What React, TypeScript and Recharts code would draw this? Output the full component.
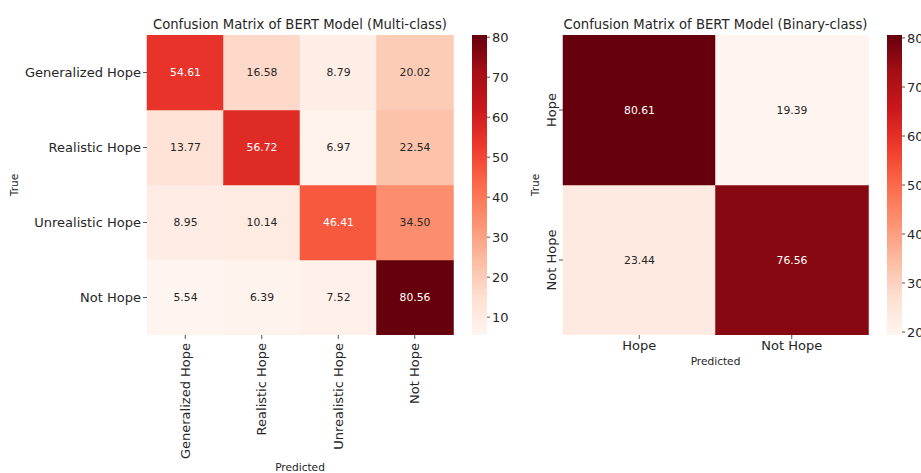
import React from 'react';
import { BarChart, Bar, XAxis, YAxis, Label } from 'recharts';

// ---------- data ----------
const multiLabels = ['Generalized Hope', 'Realistic Hope', 'Unrealistic Hope', 'Not Hope'];
const multiGeneralizedHope = [54.61, 16.58, 8.79, 20.02];
const multiRealisticHope = [13.77, 56.72, 6.97, 22.54];
const multiUnrealisticHope = [8.95, 10.14, 46.41, 34.5];
const multiNotHope = [5.54, 6.39, 7.52, 80.56];
const multiRows = [multiGeneralizedHope, multiRealisticHope, multiUnrealisticHope, multiNotHope];
const multiColorbarTicks = [10, 20, 30, 40, 50, 60, 70, 80];

const binaryLabels = ['Hope', 'Not Hope'];
const binaryHope = [80.61, 19.39];
const binaryNotHope = [23.44, 76.56];
const binaryRows = [binaryHope, binaryNotHope];
const binaryColorbarTicks = [20, 30, 40, 50, 60, 70, 80];

const multiTitle = 'Confusion Matrix of BERT Model (Multi-class)';
const binaryTitle = 'Confusion Matrix of BERT Model (Binary-class)';

// ---------- helpers ----------
const REDS = ['#fff5f0', '#fee0d2', '#fcbba1', '#fc9272', '#fb6a4a', '#ef3b2c', '#cb181d', '#a50f15', '#67000d'];
const hexToRgb = (h: string) => [parseInt(h.slice(1, 3), 16), parseInt(h.slice(3, 5), 16), parseInt(h.slice(5, 7), 16)];
const redsRgb = (t: number) => {
  const c = Math.max(0, Math.min(1, t));
  const pos = c * (REDS.length - 1);
  const i = Math.min(Math.floor(pos), REDS.length - 2);
  const f = pos - i;
  const a = hexToRgb(REDS[i]);
  const b = hexToRgb(REDS[i + 1]);
  return a.map((v, k) => Math.round(v + (b[k] - v) * f));
};
const rgbStr = (c: number[]) => `rgb(${c[0]},${c[1]},${c[2]})`;
const lum = (c: number[]) => {
  const l = c.map((v) => {
    const s = v / 255;
    return s <= 0.03928 ? s / 12.92 : Math.pow((s + 0.055) / 1.055, 2.4);
  });
  return 0.2126 * l[0] + 0.7152 * l[1] + 0.0722 * l[2];
};

const TEXT = '#262626';
const FONT = "'DejaVu Sans', sans-serif";

// Table: one entry per predicted column, stacked unit cells per true row (bottom row first)
const buildTable = (labels: string[], rows: number[][]) =>
  labels.map((pred, j) => {
    const o: any = { pred };
    rows.forEach((r, i) => {
      o[`r${i}`] = 1;
      o[`v${i}`] = r[j];
    });
    return o;
  });

const multiTable = buildTable(multiLabels, multiRows);
const binaryTable = buildTable(binaryLabels, binaryRows);

const makeCellShape = (rowIdx: number, vmin: number, vmax: number) => (props: any) => {
  const { x, y, width, height, payload } = props;
  const v = payload[`v${rowIdx}`];
  const c = redsRgb((v - vmin) / (vmax - vmin));
  const tc = lum(c) > 0.408 ? TEXT : '#ffffff';
  return (
    <g>
      <rect x={x} y={y} width={width} height={height} fill={rgbStr(c)} stroke={rgbStr(c)} strokeWidth={0.5} />
      <text x={x + width / 2} y={y + height / 2} dy="0.35em" textAnchor="middle" fontSize={10.8} fill={tc} fontFamily={FONT}>
        {v.toFixed(2)}
      </text>
    </g>
  );
};

const Heatmap = ({ table, labels, rows, width, height, yAxisWidth, rightMargin, xAxisHeight, rotatedX, rotatedY, predictedOffset, trueOffset }: any) => {
  const all = rows.flat();
  const vmin = Math.min(...all);
  const vmax = Math.max(...all);
  const n = rows.length;
  const yTicks = rows.map((_: any, i: number) => i + 0.5);
  const rowLabelFor = (v: number) => labels[n - 1 - Math.floor(v)];

  const XTick = (p: any) => {
    const { x, y, payload } = p;
    if (rotatedX) {
      return (
        <text x={x} y={y} transform={`rotate(-90 ${x} ${y})`} dx={-2} dy="0.35em" textAnchor="end" fontSize={13} fill={TEXT} fontFamily={FONT}>
          {payload.value}
        </text>
      );
    }
    return (
      <text x={x} y={y} dy="0.72em" textAnchor="middle" fontSize={13} fill={TEXT} fontFamily={FONT}>
        {payload.value}
      </text>
    );
  };
  const YTick = (p: any) => {
    const { x, y, payload } = p;
    const lbl = rowLabelFor(payload.value);
    if (rotatedY) {
      return (
        <text x={x} y={y} transform={`rotate(-90 ${x} ${y})`} textAnchor="middle" fontSize={13} fill={TEXT} fontFamily={FONT}>
          {lbl}
        </text>
      );
    }
    return (
      <text x={x} y={y} dy="0.35em" textAnchor="end" fontSize={13} fill={TEXT} fontFamily={FONT}>
        {lbl}
      </text>
    );
  };

  // stack bottom row first
  const order = rows.map((_: any, i: number) => n - 1 - i);

  return (
    <BarChart
      width={width}
      height={height}
      data={table}
      margin={{ top: 35, right: rightMargin, bottom: 0, left: 0 }}
      barCategoryGap={0}
      barGap={0}
    >
      <XAxis
        dataKey="pred"
        type="category"
        height={xAxisHeight}
        axisLine={false}
        tickSize={4}
        tickMargin={2}
        tickLine={{ stroke: TEXT, strokeWidth: 0.8 }}
        tick={<XTick />}
        interval={0}
      >
        <Label
          content={(lp: any) => {
            const vb = lp.viewBox;
            return (
              <text x={vb.x + vb.width / 2} y={vb.y + predictedOffset} textAnchor="middle" fontSize={10.6} fill={TEXT} fontFamily={FONT}>
                Predicted
              </text>
            );
          }}
        />
      </XAxis>
      <YAxis
        type="number"
        domain={[0, n]}
        ticks={yTicks}
        width={yAxisWidth}
        axisLine={false}
        tickSize={4}
        tickMargin={rotatedY ? 3 : 2}
        tickLine={{ stroke: TEXT, strokeWidth: 0.8 }}
        tick={<YTick />}
        interval={0}
        allowDataOverflow
      >
        <Label
          content={(lp: any) => {
            const vb = lp.viewBox;
            const tx = vb.x + trueOffset;
            const ty = vb.y + vb.height / 2;
            return (
              <text x={tx} y={ty} transform={`rotate(-90 ${tx} ${ty})`} dy="0.35em" textAnchor="middle" fontSize={10.6} fill={TEXT} fontFamily={FONT}>
                True
              </text>
            );
          }}
        />
      </YAxis>
      {order.map((ri: number) => (
        <Bar key={ri} dataKey={`r${ri}`} stackId="m" isAnimationActive={false} shape={makeCellShape(ri, vmin, vmax)} />
      ))}
    </BarChart>
  );
};

const Colorbar = ({ rows, ticks, width, yAxisWidth, gradId }: any) => {
  const all = rows.flat();
  const vmin = Math.min(...all);
  const vmax = Math.max(...all);
  const data = [{ name: 'cb', range: [vmin, vmax] }];
  return (
    <BarChart width={width} height={473} data={data} margin={{ top: 35, right: 0, bottom: 138, left: 0 }} barCategoryGap={0}>
      <XAxis dataKey="name" type="category" hide />
      <YAxis
        orientation="right"
        type="number"
        domain={[vmin, vmax]}
        ticks={ticks}
        width={yAxisWidth}
        axisLine={false}
        tickSize={3}
        tickMargin={2}
        tickLine={{ stroke: TEXT, strokeWidth: 0.8 }}
        tick={{ fontSize: 13, fill: TEXT, fontFamily: FONT, textAnchor: 'start' }}
        interval={0}
        allowDataOverflow
      />
      <Bar dataKey="range" fill={`url(#${gradId})`} isAnimationActive={false} />
    </BarChart>
  );
};

const Gradient = ({ id }: any) => (
  <linearGradient id={id} x1="0" y1="1" x2="0" y2="0">
    {REDS.map((c, i) => (
      <stop key={i} offset={`${(i / (REDS.length - 1)) * 100}%`} stopColor={c} />
    ))}
  </linearGradient>
);

const titleStyle = (left: number, width: number): React.CSSProperties => ({
  position: 'absolute',
  left,
  width,
  top: 16,
  textAlign: 'center',
  fontSize: 13.2,
  lineHeight: '18px',
  color: TEXT,
  fontFamily: FONT,
  whiteSpace: 'nowrap',
});

export default function App() {
  return (
    <div style={{ position: 'absolute', left: 0, top: 0, width: 921, height: 473, background: '#ffffff', overflow: 'hidden', fontFamily: FONT }}>
      <svg width={0} height={0} style={{ position: 'absolute' }}>
        <defs>
          <Gradient id="redsGrad" />
        </defs>
      </svg>
      <div style={titleStyle(147, 306)}>{multiTitle}</div>
      <div style={titleStyle(563, 305)}>{binaryTitle}</div>
      <div style={{ position: 'absolute', left: 0, top: 0 }}>
        <Heatmap
          table={multiTable}
          labels={multiLabels}
          rows={multiRows}
          width={470}
          height={473}
          yAxisWidth={147}
          rightMargin={17}
          xAxisHeight={138}
          rotatedX
          rotatedY={false}
          predictedOffset={136}
          trueOffset={14}
        />
      </div>
      <div style={{ position: 'absolute', left: 472, top: 0 }}>
        <Colorbar rows={multiRows} ticks={multiColorbarTicks} width={50} yAxisWidth={35} gradId="redsGrad" />
      </div>
      <div style={{ position: 'absolute', left: 470, top: 0 }}>
        <Heatmap
          table={binaryTable}
          labels={binaryLabels}
          rows={binaryRows}
          width={415}
          height={473}
          yAxisWidth={93}
          rightMargin={17}
          xAxisHeight={138}
          rotatedX={false}
          rotatedY
          predictedOffset={30}
          trueOffset={65}
        />
      </div>
      <div style={{ position: 'absolute', left: 887, top: 0 }}>
        <Colorbar rows={binaryRows} ticks={binaryColorbarTicks} width={34} yAxisWidth={19} gradId="redsGrad" />
      </div>
    </div>
  );
}
